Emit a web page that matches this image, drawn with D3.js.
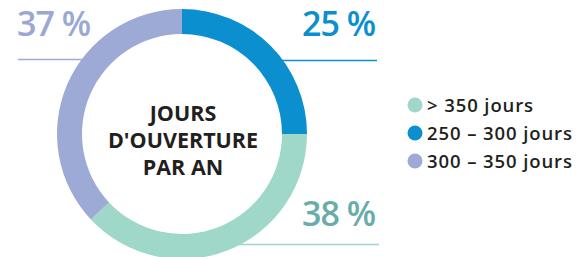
<!DOCTYPE html>
<html>
<head>
<meta charset="utf-8">
<script src="https://cdn.jsdelivr.net/npm/d3@7"></script>
<style>
  body { margin: 0; background: #fff; }
  svg { display: block; }
  text { font-family: "Open Sans", "DejaVu Sans", sans-serif; }
</style>
</head>
<body>
<svg id="chart" width="587" height="257"></svg>
<script>
// data, in drawing order (clockwise from 12 o'clock)
var categories = ["250 – 300 jours", "> 350 jours", "300 – 350 jours"];
var shares = [25, 38, 37];
var sliceColors = ["#0b8fcf", "#9fd7c9", "#9eaad6"];
var labelColors = ["#0b8fcf", "#6aaca8", "#9aa8d3"];
var lineColors = ["#0b8fcf", "#9fd7c9", "#9eaad6"];
var labelTexts = ["25 %", "38 %", "37 %"];
var legendOrder = ["> 350 jours", "250 – 300 jours", "300 – 350 jours"];
var centerLines = ["JOURS", "D'OUVERTURE", "PAR AN"];

var svg = d3.select("#chart");
var cx = 182, cy = 134, rOuter = 125, rInner = 100;

var pie = d3.pie().sort(null).value(function(d){ return d; });
var arc = d3.arc().innerRadius(rInner).outerRadius(rOuter);
var arcs = pie(shares);

// label positions + leader lines (x = text start, y = baseline, lineY = rule)
var labelPos = [
    {x: 302, y: 36, lineY: 60.5, side: "right", lineEnd: 377},
    {x: 302, y: 226, lineY: 244.5, side: "right", lineEnd: 379},
    {x: 17, y: 36, lineY: 59.5, side: "left", lineEnd: 18}
];

labelPos.forEach(function(p, i){
    var dy = p.lineY - cy;
    var dx = Math.sqrt(Math.max(0, rOuter * rOuter - dy * dy));
    var edge = p.side == "right" ? cx + dx - 2 : cx - dx + 2;
    svg.append("line")
        .attr("x1", p.side == "right" ? edge : p.lineEnd)
        .attr("x2", p.side == "right" ? p.lineEnd : edge)
        .attr("y1", p.lineY).attr("y2", p.lineY)
        .style("stroke", lineColors[i])
        .style("stroke-width", 1.3);
});

var g = svg.append("g").attr("transform", "translate(" + cx + "," + cy + ")");
g.selectAll("path.slice")
    .data(arcs)
    .enter().append("path")
    .attr("class", "slice")
    .attr("d", arc)
    .style("fill", function(d, i){ return sliceColors[i]; });

svg.selectAll("text.pct")
    .data(labelTexts)
    .enter().append("text")
    .attr("class", "pct")
    .attr("x", function(d, i){ return labelPos[i].x; })
    .attr("y", function(d, i){ return labelPos[i].y; })
    .style("font-size", "34px")
    .style("font-weight", 600)
    .style("letter-spacing", "-1px")
    .style("fill", function(d, i){ return labelColors[i]; })
    .text(function(d){ return d; });

// center title
svg.selectAll("text.center")
    .data(centerLines)
    .enter().append("text")
    .attr("class", "center")
    .attr("x", cx + 1)
    .attr("y", function(d, i){ return 121 + i * 27; })
    .attr("text-anchor", "middle")
    .style("font-size", "21.5px")
    .style("font-weight", 700)
    .style("fill", "#231f20")
    .text(function(d){ return d; });

// legend
var color = d3.scaleOrdinal().domain(categories).range(sliceColors);
var legend = svg.selectAll("g.legend")
    .data(legendOrder)
    .enter().append("g")
    .attr("class", "legend")
    .attr("transform", function(d, i){ return "translate(415," + (105 + i * 28) + ")"; });
legend.append("circle")
    .attr("r", 7.5)
    .style("fill", function(d){ return color(d); });
legend.append("text")
    .attr("x", 12)
    .attr("y", 6.5)
    .style("font-size", "18.5px")
    .style("font-weight", 600)
    .style("letter-spacing", "0.9px")
    .style("fill", "#231f20")
    .text(function(d){ return d; });
</script>
</body>
</html>
